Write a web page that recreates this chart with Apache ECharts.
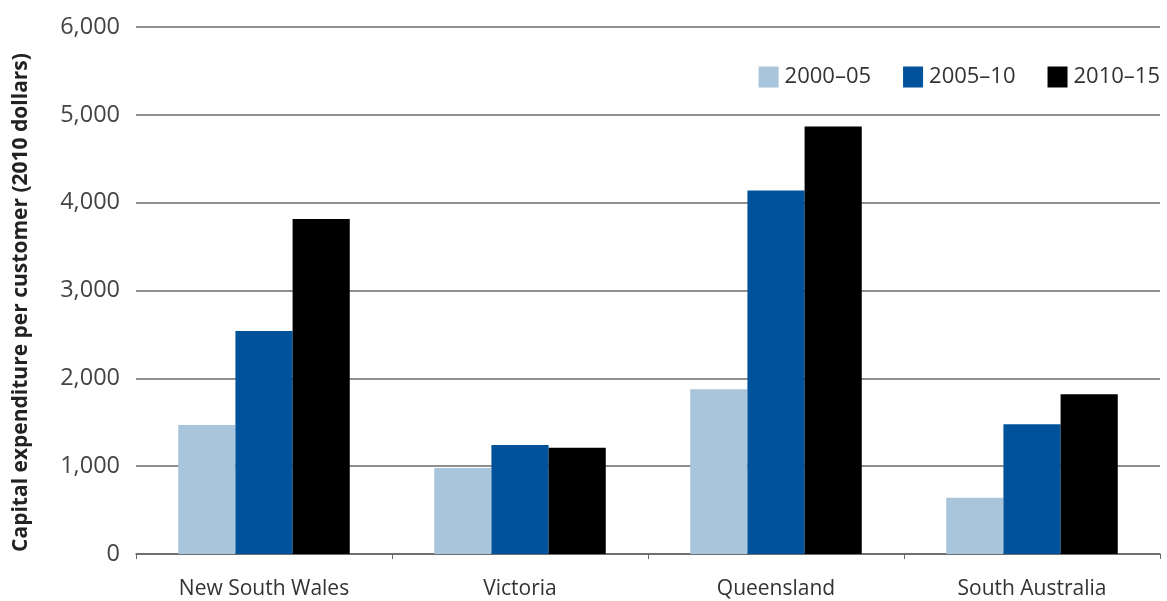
<!DOCTYPE html>
<html>
<head>
<meta charset="utf-8">
<script src="https://cdn.jsdelivr.net/npm/echarts@6/dist/echarts.min.js"></script>
<style>html,body{margin:0;padding:0;background:#fff;}#c{width:1167px;height:601px;}</style>
</head>
<body>
<div id="c"></div>
<script>
const categories = ['New South Wales', 'Victoria', 'Queensland', 'South Australia'];
const seriesNames = ['2000–05', '2005–10', '2010–15'];
const s2000_05 = [1470, 980, 1876, 641];
const s2005_10 = [2540, 1241, 4138, 1477];
const s2010_15 = [3815, 1210, 4867, 1819];
const yTicks = [0, 1000, 2000, 3000, 4000, 5000, 6000];
const colors = ['#a8c5dc', '#00529b', '#000000'];

const font = 'Open Sans';
const chart = echarts.init(document.getElementById('c'));
const values = [s2000_05, s2005_10, s2010_15];
chart.setOption({
  animation: false,
  textStyle: { fontFamily: font },
  grid: { left: 136, right: 7, top: 27, bottom: 47, containLabel: false },
  legend: {
    right: 2, top: 61, itemWidth: 20, itemHeight: 21, itemGap: 32,
    icon: 'rect',
    textStyle: { fontFamily: font, fontSize: 22, color: '#333', padding: [0, 0, 0, 1] },
    data: seriesNames
  },
  xAxis: {
    type: 'category', data: categories,
    axisLine: { show: true, lineStyle: { color: '#666', width: 1.5 } },
    axisTick: { show: true, length: 5, lineStyle: { color: '#666' } },
    axisLabel: { fontFamily: font, fontSize: 21, color: '#333', margin: 25 }
  },
  yAxis: {
    type: 'value', min: 0, max: 6000, interval: 1000,
    name: 'Capital expenditure per customer (2010 dollars)',
    nameLocation: 'middle', nameGap: 104,
    nameTextStyle: { fontFamily: font, fontSize: 21, fontWeight: 'bold', color: '#222', padding: [0, 24, 0, 0] },
    axisLine: { show: false }, axisTick: { show: false },
    splitLine: { lineStyle: { color: '#6a6a6a', width: 1.5 } },
    axisLabel: {
      fontFamily: font, fontSize: 23.5, color: '#444', margin: 16,
      formatter: v => yTicks.includes(v) ? v.toLocaleString('en-US') : ''
    }
  },
  series: seriesNames.map((n, i) => ({
    name: n, type: 'bar', data: values[i],
    barGap: '0%', barCategoryGap: '33%',
    itemStyle: { color: colors[i] }
  }))
});
</script>
</body>
</html>
